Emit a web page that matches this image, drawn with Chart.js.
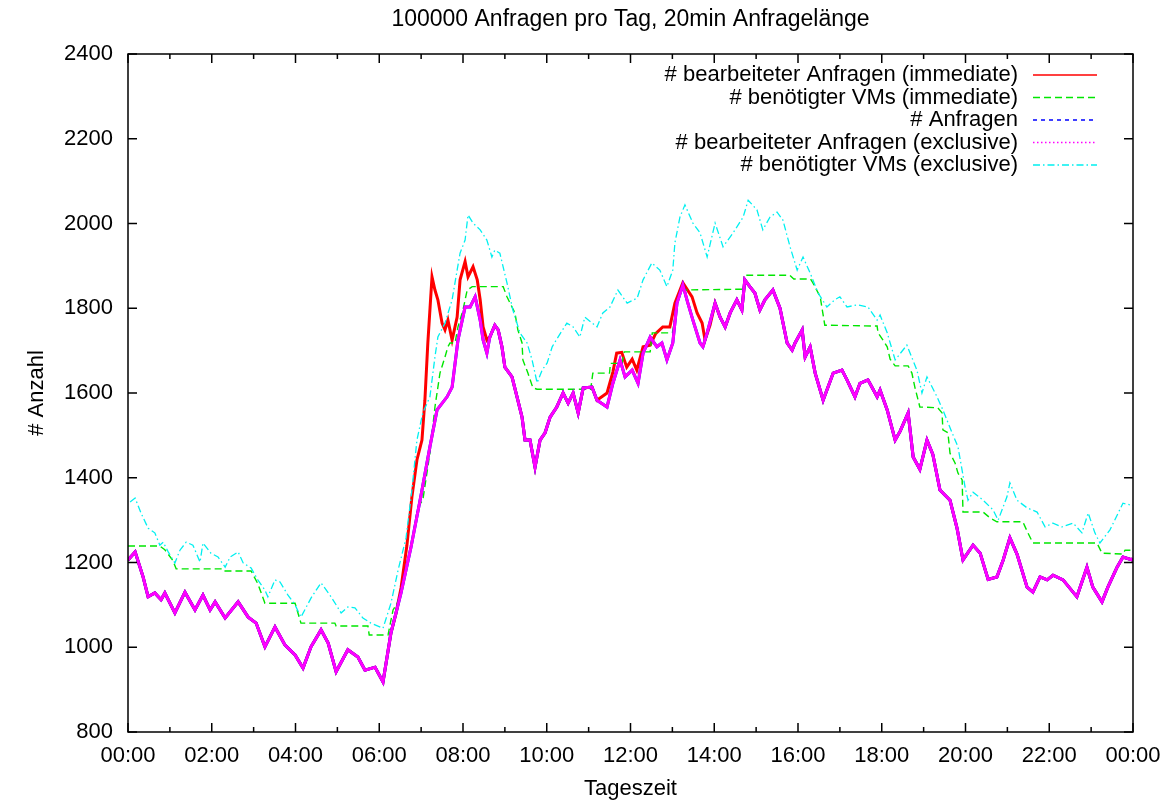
<!DOCTYPE html>
<html>
<head>
<meta charset="utf-8">
<title>100000 Anfragen pro Tag</title>
<script src="https://cdn.jsdelivr.net/npm/chart.js@4.4.1/dist/chart.umd.min.js"></script>
<style>
  body { margin: 0; background: #fff; }
</style>
</head>
<body>
<canvas id="chartTag" width="1167" height="802"></canvas>
<script>
var anfragen = [
  [0,1206],[0.17,1225],[0.36,1166],[0.48,1119],[0.64,1128],[0.79,1112],[0.88,1128],[1.12,1081],
  [1.36,1130],[1.6,1088],[1.79,1123],[1.96,1088],[2.08,1107],[2.32,1069],[2.63,1107],[2.87,1071],
  [3.06,1057],[3.27,1001],[3.51,1048],[3.75,1005],[3.99,982],[4.18,951],[4.37,1001],[4.61,1041],
  [4.78,1010],[4.97,942],[5.25,994],[5.49,977],[5.66,946],[5.9,953],[6.09,918],[6.28,1034],
  [6.52,1128],[6.76,1237],[7.0,1360],[7.21,1473],[7.38,1560],[7.62,1591],[7.74,1614],[7.88,1725],
  [8.05,1803],[8.17,1803],[8.29,1827],[8.41,1772],[8.48,1725],[8.57,1694],[8.64,1732],[8.76,1760],
  [8.84,1749],[8.93,1709],[9.0,1661],[9.17,1638],[9.29,1591],[9.41,1543],[9.48,1489],[9.6,1489],
  [9.72,1425],[9.84,1489],[9.96,1506],[10.08,1543],[10.24,1567],[10.39,1600],[10.51,1576],[10.63,1600],
  [10.75,1553],[10.87,1612],[11.08,1614],[11.2,1583],[11.44,1567],[11.58,1623],[11.75,1678],[11.87,1638],
  [12.04,1654],[12.18,1623],[12.3,1694],[12.47,1732],[12.63,1709],[12.75,1718],[12.87,1678],[13.01,1718],
  [13.11,1812],[13.25,1855],[13.37,1812],[13.49,1772],[13.66,1718],[13.73,1709],[13.83,1742],[14.02,1812],
  [14.14,1779],[14.26,1756],[14.38,1789],[14.54,1820],[14.66,1796],[14.73,1867],[14.85,1851],[14.97,1836],
  [15.09,1796],[15.21,1820],[15.4,1843],[15.57,1800],[15.74,1718],[15.86,1701],[15.93,1718],[16.1,1749],
  [16.17,1685],[16.29,1709],[16.41,1647],[16.6,1583],[16.84,1647],[17.05,1654],[17.17,1631],[17.36,1591],
  [17.48,1623],[17.67,1631],[17.89,1591],[17.96,1607],[18.13,1560],[18.32,1489],[18.44,1510],[18.63,1553],
  [18.75,1449],[18.91,1420],[19.08,1489],[19.22,1455],[19.39,1371],[19.63,1347],[19.8,1280],[19.94,1206],
  [20.18,1241],[20.35,1222],[20.54,1160],[20.75,1166],[20.9,1206],[21.06,1258],[21.23,1220],[21.47,1142],
  [21.61,1130],[21.78,1166],[21.95,1159],[22.09,1170],[22.33,1159],[22.66,1119],[22.9,1189],[23.04,1142],
  [23.26,1107],[23.4,1142],[23.62,1189],[23.76,1213],[23.98,1206],[24,1210]
];
// wo "immediate" mehr bearbeitet als "exclusive"
var sofortSpitzen1 = [
  [6.4,1080],[6.52,1140],[6.66,1240],[6.78,1355],[6.9,1442],[7.02,1489],[7.09,1583],[7.16,1718],
  [7.21,1796],[7.26,1874],[7.33,1843],[7.4,1820],[7.5,1765],[7.57,1749],[7.64,1772],[7.74,1725],
  [7.86,1779],[7.93,1867],[8.05,1910],[8.12,1874],[8.24,1898],[8.34,1867],[8.41,1820],[8.48,1756],
  [8.57,1725],[8.64,1732]
];
var sofortSpitzen2 = [
  [11.44,1600],[11.58,1650],[11.67,1694],[11.79,1696],[11.91,1661],[12.04,1680],[12.15,1654],[12.3,1709],
  [12.47,1713],[12.6,1740],[12.77,1756],[12.94,1756],[13.06,1812],[13.25,1860],[13.47,1827],[13.59,1789],
  [13.71,1765],[13.78,1725],[13.9,1760]
];
var vmsSofort = [
  [0,1239],[0.76,1239],[0.88,1230],[1.07,1205],[1.15,1185],[2.27,1185],[2.3,1180],[2.94,1180],
  [3.1,1150],[3.27,1104],[3.99,1104],[4.13,1057],[4.94,1057],[4.97,1050],[5.73,1050],[5.76,1029],
  [6.21,1029],[6.28,1064],[6.33,1088],[6.43,1104],[6.52,1128],[6.76,1237],[6.92,1330],[7.04,1347],
  [7.21,1458],[7.33,1567],[7.45,1647],[7.57,1685],[7.64,1709],[7.69,1718],[7.81,1718],[7.88,1756],
  [8.0,1796],[8.1,1843],[8.22,1851],[8.96,1851],[9.05,1827],[9.17,1803],[9.24,1789],[9.31,1749],
  [9.41,1718],[9.43,1678],[9.55,1647],[9.67,1612],[9.77,1609],[11.05,1609],[11.1,1647],[11.5,1647],
  [11.52,1670],[11.8,1670],[11.85,1697],[12.47,1697],[12.52,1742],[13.0,1742],[13.08,1790],[13.18,1843],
  [14.7,1845],[14.78,1878],[15.8,1878],[15.9,1869],[16.3,1869],[16.36,1859],[16.53,1827],[16.64,1760],
  [17.89,1758],[17.91,1742],[18.03,1725],[18.13,1709],[18.2,1680],[18.32,1664],[18.63,1664],[18.72,1647],
  [18.79,1614],[18.91,1567],[19.34,1565],[19.44,1553],[19.46,1513],[19.58,1506],[19.63,1458],[19.75,1435],
  [19.82,1411],[19.92,1395],[19.94,1319],[20.42,1319],[20.59,1305],[20.75,1296],[21.37,1296],[21.49,1270],
  [21.61,1246],[23.14,1246],[23.26,1222],[23.76,1220],[23.81,1229],[24,1229]
];
var vmsExklusiv = [
  [0.05,1343],[0.17,1352],[0.31,1317],[0.48,1281],[0.64,1270],[0.76,1241],[0.84,1248],[0.96,1225],
  [1.12,1199],[1.24,1229],[1.39,1248],[1.55,1241],[1.72,1201],[1.79,1246],[1.98,1222],[2.15,1213],
  [2.32,1189],[2.44,1213],[2.63,1225],[2.75,1199],[2.94,1187],[3.1,1159],[3.27,1135],[3.34,1119],
  [3.51,1159],[3.63,1154],[3.82,1123],[3.99,1100],[4.13,1071],[4.37,1116],[4.61,1152],[4.85,1119],
  [5.09,1081],[5.25,1095],[5.42,1093],[5.61,1069],[5.8,1057],[6.09,1045],[6.28,1104],[6.45,1182],
  [6.64,1258],[6.78,1371],[6.9,1489],[7.04,1553],[7.21,1591],[7.33,1685],[7.4,1732],[7.57,1765],
  [7.74,1820],[7.86,1890],[7.93,1930],[8.05,1961],[8.12,2020],[8.24,2001],[8.41,1985],[8.57,1961],
  [8.69,1921],[8.76,1937],[8.88,1930],[9.05,1860],[9.19,1796],[9.36,1742],[9.53,1718],[9.65,1678],
  [9.77,1624],[9.89,1654],[10.01,1671],[10.13,1709],[10.27,1732],[10.48,1765],[10.63,1756],[10.79,1732],
  [10.91,1779],[11.2,1756],[11.34,1789],[11.51,1803],[11.7,1843],[11.92,1812],[12.16,1824],[12.3,1867],
  [12.51,1907],[12.7,1890],[12.87,1851],[13.01,1890],[13.06,1954],[13.18,2015],[13.3,2044],[13.49,2001],
  [13.66,1978],[13.83,1921],[14.02,2001],[14.21,1945],[14.45,1978],[14.69,2015],[14.81,2055],[15.02,2032],
  [15.16,1985],[15.33,2015],[15.5,2027],[15.64,2008],[15.81,1945],[15.98,1890],[16.12,1921],[16.29,1883],
  [16.48,1836],[16.69,1803],[16.88,1820],[17.0,1827],[17.17,1803],[17.41,1808],[17.67,1803],[17.89,1772],
  [17.96,1784],[18.13,1742],[18.32,1678],[18.6,1713],[18.84,1654],[18.96,1600],[19.08,1638],[19.32,1591],
  [19.46,1560],[19.68,1506],[19.82,1473],[19.99,1378],[20.06,1347],[20.18,1366],[20.42,1347],[20.66,1324],
  [20.78,1300],[20.99,1355],[21.06,1388],[21.23,1347],[21.47,1329],[21.71,1319],[21.9,1284],[22.09,1293],
  [22.3,1284],[22.57,1293],[22.78,1270],[22.93,1317],[23.09,1270],[23.21,1246],[23.45,1277],[23.76,1340],
  [23.93,1336],[24,1335]
];
var namen = [
  '# bearbeiteter Anfragen (immediate)',
  '# benötigter VMs (immediate)',
  '# Anfragen',
  '# bearbeiteter Anfragen (exclusive)',
  '# benötigter VMs (exclusive)'
];

function mitSpitzen(basis, spitzen) {
  let von = spitzen[0][0];
  let bis = spitzen[spitzen.length - 1][0];
  return basis.filter(function (p) { return p[0] < von || p[0] > bis; })
    .concat(spitzen)
    .sort(function (a, b) { return a[0] - b[0]; });
}
function punkte(liste) {
  return liste.map(function (p) { return {x: p[0], y: p[1]}; });
}

var sofortBearbeitet = mitSpitzen(mitSpitzen(anfragen, sofortSpitzen1), sofortSpitzen2);
var schrift = '"Liberation Sans", Arial, Helvetica, sans-serif';
Chart.defaults.font.family = schrift;
Chart.defaults.font.size = 22;
Chart.defaults.color = '#000';

// gnuplot-artige Legende oben rechts im Plot
var legendePlugin = {
  id: 'legende',
  afterDatasetsDraw: function (chart) {
    let ctx = chart.ctx;
    ctx.save();
    ctx.font = '22px ' + schrift;
    ctx.textAlign = 'right';
    ctx.textBaseline = 'middle';
    chart.data.datasets.forEach(function (ds, i) {
      let y = 75 + i * 22.5;
      ctx.fillStyle = '#000';
      ctx.fillText(ds.label, 1018, y);
      ctx.strokeStyle = ds.borderColor;
      ctx.lineWidth = ds.legendBreite;
      ctx.setLineDash(ds.legendStrich);
      ctx.beginPath();
      ctx.moveTo(1033, y);
      ctx.lineTo(1097, y);
      ctx.stroke();
    });
    ctx.restore();
  }
};

// Rahmen und Striche nach innen, auf allen vier Seiten
var rahmenPlugin = {
  id: 'rahmen',
  afterDraw: function (chart) {
    let ctx = chart.ctx;
    let a = chart.chartArea;
    let sx = chart.scales.x, sy = chart.scales.y;
    ctx.save();
    ctx.strokeStyle = '#000';
    ctx.lineWidth = 1.5;
    ctx.setLineDash([]);
    ctx.beginPath();
    for (let h = 0; h <= 24; h++) {
      let px = sx.getPixelForValue(h);
      let len = (h % 2 === 0) ? 9 : 5;
      ctx.moveTo(px, a.bottom); ctx.lineTo(px, a.bottom - len);
      ctx.moveTo(px, a.top); ctx.lineTo(px, a.top + len);
    }
    for (let v = 800; v <= 2400; v += 200) {
      let py = sy.getPixelForValue(v);
      ctx.moveTo(a.left, py); ctx.lineTo(a.left + 9, py);
      ctx.moveTo(a.right, py); ctx.lineTo(a.right - 9, py);
    }
    ctx.stroke();
    ctx.strokeRect(a.left, a.top, a.right - a.left, a.bottom - a.top);
    ctx.restore();
  }
};

var graphTarget = document.getElementById('chartTag');
var lineGraph = new Chart(graphTarget, {
  type: 'line',
  data: {
    datasets: [
      {
        label: namen[0], data: punkte(sofortBearbeitet), borderColor: '#ff0000',
        borderWidth: 3, order: 5, legendStrich: [], legendBreite: 1.5
      },
      {
        label: namen[1], data: punkte(vmsSofort), borderColor: '#00e600',
        borderWidth: 1.4, borderDash: [7, 4], order: 4, legendStrich: [7, 4], legendBreite: 1.5
      },
      {
        label: namen[2], data: punkte(anfragen), borderColor: '#0000ff',
        borderWidth: 3, order: 3, legendStrich: [4, 4], legendBreite: 1.3
      },
      {
        label: namen[3], data: punkte(anfragen), borderColor: '#ff00ff',
        borderWidth: 3, order: 2, legendStrich: [1.5, 2.5], legendBreite: 1.5
      },
      {
        label: namen[4], data: punkte(vmsExklusiv), borderColor: '#00f0f0',
        borderWidth: 1.3, borderDash: [7, 3, 1.5, 3], order: 1, legendStrich: [7, 3, 1.5, 3], legendBreite: 1.5
      }
    ]
  },
  options: {
    responsive: false,
    animation: false,
    devicePixelRatio: 1,
    layout: { padding: { left: 0, right: 34, top: 0, bottom: 0 } },
    elements: {
      point: { radius: 0 },
      line: { tension: 0, fill: false }
    },
    plugins: {
      legend: { display: false },
      tooltip: { enabled: false },
      title: {
        display: true,
        fullSize: false,
        text: '100000 Anfragen pro Tag, 20min Anfragelänge',
        font: { size: 23, weight: 'normal', lineHeight: 1.2 },
        padding: { top: 6, bottom: 20.4 }
      }
    },
    scales: {
      x: {
        type: 'linear',
        min: 0,
        max: 24,
        grid: { display: false, drawTicks: false },
        border: { display: false },
        ticks: {
          stepSize: 2,
          padding: 11,
          maxRotation: 0,
          autoSkip: false,
          callback: function (v) {
            return String(v % 24).padStart(2, '0') + ':00';
          }
        },
        title: {
          display: true,
          text: 'Tageszeit',
          font: { size: 22, lineHeight: 1.2 },
          padding: { top: 0, bottom: 0 }
        },
        afterFit: function (scale) {
          scale.height = 70;
          scale.paddingLeft = 0;
          scale.paddingRight = 0;
        }
      },
      y: {
        min: 800,
        max: 2400,
        grid: { display: false, drawTicks: false },
        border: { display: false },
        ticks: {
          stepSize: 200,
          padding: 15,
          callback: function (v) { return String(v); }
        },
        title: {
          display: true,
          text: '# Anzahl',
          font: { size: 22, lineHeight: 1.2 },
          padding: { top: 24, bottom: 0 }
        },
        afterFit: function (scale) {
          scale.width = 128;
          scale.paddingTop = 0;
          scale.paddingBottom = 0;
        }
      }
    }
  },
  plugins: [legendePlugin, rahmenPlugin]
});
</script>
</body>
</html>
